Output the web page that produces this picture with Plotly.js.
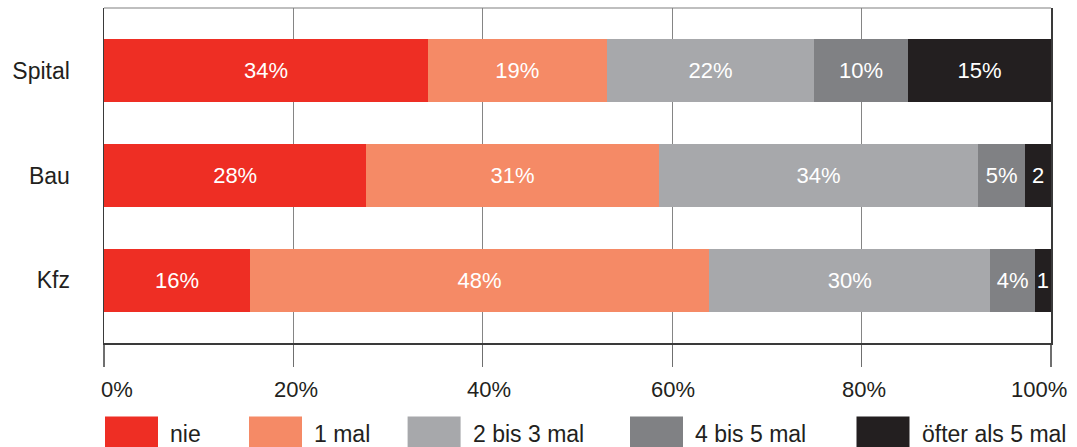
<!DOCTYPE html>
<html>
<head>
<meta charset="utf-8">
<script src="https://cdn.plot.ly/plotly-3.0.1.min.js"></script>
<style>html,body{margin:0;padding:0;background:#fff;}#chart{width:1077px;height:447px;}</style>
</head>
<body>
<div id="chart"></div>
<script>
// ---- data ----
const categories = ['Spital', 'Bau', 'Kfz'];
const seriesNames = ['nie', '1 mal', '2 bis 3 mal', '4 bis 5 mal', 'öfter als 5 mal'];
const nie = [34.2, 27.7, 15.4];
const einmal = [18.9, 30.9, 48.5];
const zweiBisDrei = [21.9, 33.7, 29.7];
const vierBisFuenf = [9.9, 5.0, 4.7];
const oefter = [15.1, 2.7, 1.7];
const nieLabels = ['34%', '28%', '16%'];
const einmalLabels = ['19%', '31%', '48%'];
const zweiBisDreiLabels = ['22%', '34%', '30%'];
const vierBisFuenfLabels = ['10%', '5%', '4%'];
const oefterLabels = ['15%', '2', '1'];
const tickVals = [0, 20, 40, 60, 80, 100];
const tickLabels = ['0%', '20%', '40%', '60%', '80%', '100%'];

// ---- style ----
const colors = ['#EE2E24', '#F58A66', '#A7A8AB', '#808184', '#231F20'];
const FONT = 'Liberation Sans, Arial, Helvetica, sans-serif';
const TXT = '#231F20';
const M = {l: 104, r: 26, t: 8, b: 104};
const W = 1077, H = 447;
const plotL = M.l, plotR = W - M.r, plotT = M.t, plotB = H - M.b;
const px2paper = px => (px - plotL) / (plotR - plotL);
const py2paper = py => (plotB - py) / (plotB - plotT);

const values = [nie, einmal, zweiBisDrei, vierBisFuenf, oefter];
const labels = [nieLabels, einmalLabels, zweiBisDreiLabels, vierBisFuenfLabels, oefterLabels];

const traces = values.map((v, i) => ({
  type: 'bar',
  orientation: 'h',
  name: seriesNames[i],
  y: categories,
  x: v,
  text: labels[i],
  textposition: 'inside',
  insidetextanchor: 'middle',
  constraintext: 'none',
  textfont: {family: FONT, size: 22, color: '#FFFFFF'},
  marker: {color: colors[i], line: {width: 0}},
  hoverinfo: 'skip',
  showlegend: false
}));

// tick label placement tweaks (pixels)
const tickShift = [13, 3, 6, 1, 2, -12];
const annotations = tickVals.map((t, i) => ({
  x: t, xref: 'x', y: py2paper(389), yref: 'paper',
  text: tickLabels[i], showarrow: false, xanchor: 'center', yanchor: 'middle',
  xshift: tickShift[i],
  font: {family: FONT, size: 22, color: TXT}
}));

// custom legend
const swatchX = [105, 249, 407.6, 630, 856.5];
const swatchW = 53;
const shapes = [
  {type: 'line', xref: 'paper', yref: 'paper', x0: 0, x1: 1, y0: 1, y1: 1,
   line: {color: '#808080', width: 1.2}}
];
seriesNames.forEach((n, i) => {
  shapes.push({
    type: 'rect', xref: 'paper', yref: 'paper',
    x0: px2paper(swatchX[i]), x1: px2paper(swatchX[i] + swatchW),
    y0: py2paper(416.5), y1: py2paper(452),
    fillcolor: colors[i], line: {width: 0}, layer: 'above'
  });
  annotations.push({
    x: px2paper(swatchX[i] + swatchW + 10), xref: 'paper',
    y: py2paper(434), yref: 'paper',
    text: n, showarrow: false, xanchor: 'left', yanchor: 'middle',
    font: {family: FONT, size: 23, color: TXT}
  });
});

const layout = {
  width: W, height: H,
  margin: M,
  paper_bgcolor: '#FFFFFF',
  plot_bgcolor: '#FFFFFF',
  barmode: 'stack',
  bargap: 0.4,
  font: {family: FONT, color: TXT},
  xaxis: {
    range: [0, 100],
    tickvals: tickVals,
    ticktext: tickLabels,
    showticklabels: false,
    showgrid: true, gridcolor: '#858585', gridwidth: 1.2,
    zeroline: false,
    showline: true, linecolor: '#3a3a3a', linewidth: 1.5,
    ticks: 'outside', ticklen: 22, tickwidth: 1.2, tickcolor: '#6f6f6f',
    fixedrange: true
  },
  yaxis: {
    type: 'category',
    categoryorder: 'array', categoryarray: categories,
    range: [2.6, -0.6],
    showgrid: false, zeroline: false,
    showline: true, mirror: true, linecolor: '#3a3a3a', linewidth: 1.5,
    ticks: '',
    ticklabelstandoff: 28,
    tickfont: {family: FONT, size: 23, color: TXT},
    fixedrange: true
  },
  shapes: shapes,
  annotations: annotations
};

Plotly.newPlot('chart', traces, layout, {staticPlot: true, displayModeBar: false});
</script>
</body>
</html>
